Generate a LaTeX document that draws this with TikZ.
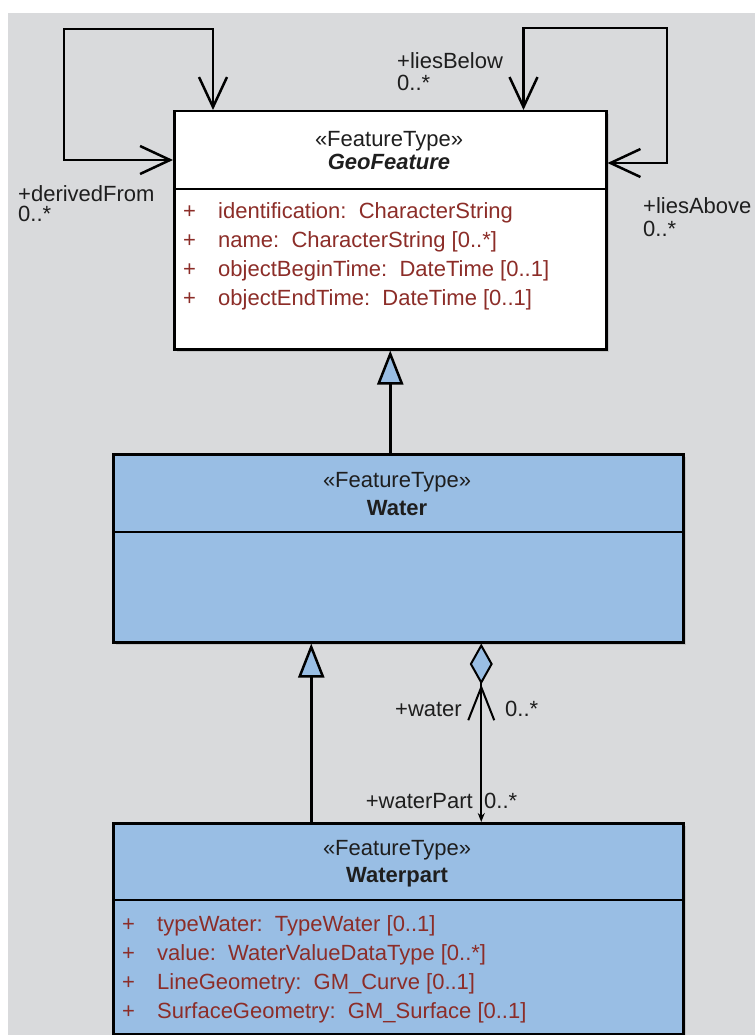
\documentclass[tikz,border=0pt]{standalone}
\usepackage{fontspec}
\setmainfont{Liberation Sans}
\usetikzlibrary{arrows.meta, positioning, shadows}
\definecolor{umlgray}{RGB}{217,218,220}
\definecolor{waterblue}{RGB}{153,190,228}
\definecolor{attrred}{RGB}{140,45,40}
\definecolor{umlink}{RGB}{30,30,30}
\tikzstyle{classbox} = [draw=black, line width=2.5pt, inner sep=0pt, anchor=north west, drop shadow={shadow xshift=3pt, shadow yshift=-3pt, opacity=0.25}]
\tikzstyle{divider} = [line width=2.5pt]
\tikzstyle{umltext} = [inner sep=0pt, text=umlink, font=\fontsize{22}{29}\selectfont]
\tikzstyle{attrs} = [umltext, align=left, anchor=north west, text=attrred]
\tikzstyle{role} = [inner sep=0pt, text=umlink, align=left, anchor=north west]
\tikzstyle{assoc} = [line width=2.5pt, {Straight Barb[length=30pt,width=28pt]}-{Straight Barb[length=30pt,width=28pt]}]
\tikzstyle{gen} = [line width=2.5pt, -{Triangle[length=34pt,width=26pt,fill=waterblue]}]
\tikzstyle{agg} = [line width=2pt, {Diamond[length=41pt,width=23pt,fill=waterblue] Straight Barb[length=33pt,width=26pt]}-{Stealth[length=9pt,width=7pt]}]
\newcommand{\umlattr}[1]{\makebox[35pt][l]{+}#1}

\begin{document}
\begin{tikzpicture}[x=1pt, y=-1pt]
% canvas
\useasboundingbox (0,0) rectangle (755,1035);
\fill[white] (0,0) rectangle (755,1035);
\fill[umlgray] (8,13) rectangle (755,1035);

% GeoFeature
\node[classbox, fill=white, minimum width=432pt, minimum height=238pt] (geo) at (173,110) {};
\draw[divider] ([yshift=-79pt]geo.north west) -- ([yshift=-79pt]geo.north east);
\node[umltext, anchor=base] (geostereo) at (389,147) {«FeatureType»};
\node[umltext, anchor=base] (geoname) at (389,170) {\bfseries\itshape GeoFeature};
\node[attrs] (geoattrs) at (183,202) {
    \umlattr{identification:\ \ CharacterString}\\
    \umlattr{name:\ \ CharacterString [0..*]}\\
    \umlattr{objectBeginTime:\ \ DateTime [0..1]}\\
    \umlattr{objectEndTime:\ \ DateTime [0..1]}
};

% Water
\node[classbox, fill=waterblue, minimum width=570pt, minimum height=188pt] (water) at (112,453) {};
\draw[divider] ([yshift=-79pt]water.north west) -- ([yshift=-79pt]water.north east);
\node[umltext, anchor=base] (waterstereo) at (397,487) {«FeatureType»};
\node[umltext, anchor=base] (watername) at (397,515) {\bfseries Water};

% Waterpart
\node[classbox, fill=waterblue, minimum width=570pt, minimum height=211pt] (wpart) at (112,822) {};
\draw[divider] ([yshift=-78pt]wpart.north west) -- ([yshift=-78pt]wpart.north east);
\node[umltext, anchor=base] (wpartstereo) at (397,855) {«FeatureType»};
\node[umltext, anchor=base] (wpartname) at (397,882) {\bfseries Waterpart};
\node[attrs] (wpartattrs) at (122,915) {
    \umlattr{typeWater:\ \ TypeWater [0..1]}\\
    \umlattr{value:\ \ WaterValueDataType [0..*]}\\
    \umlattr{LineGeometry:\ \ GM\_Curve [0..1]}\\
    \umlattr{SurfaceGeometry:\ \ GM\_Surface [0..1]}
};

% self associations
\coordinate (derivedcorner) at (64,29);
\coordinate (liescorner) at (667,28);
\draw[assoc] ([xshift=40pt]geo.north west) |- (derivedcorner) |- ([yshift=-50pt]geo.north west);
\draw[assoc] ([xshift=-84pt]geo.north east) |- (liescorner) |- ([yshift=-53pt]geo.north east);
\node[role, font=\fontsize{22}{20}\selectfont] (derivedlbl) at (18,185) {+derivedFrom\\0..*};
\node[role, font=\fontsize{22}{22}\selectfont] (belowlbl) at (397,52) {+liesBelow\\0..*};
\node[role, font=\fontsize{22}{23}\selectfont] (abovelbl) at (643,197) {+liesAbove\\0..*};

% generalizations
\draw[gen] (water.north -| geo.south) -- (geo.south);
\draw[gen] ([xshift=-87pt]wpart.north) -- ([xshift=-87pt]water.south);

% aggregation
\draw[agg] ([xshift=83pt]water.south) -- ([xshift=83pt]wpart.north);
\node[umltext, anchor=base east] (waterrole) at (462,716) {+water};
\node[umltext, anchor=base west] (watermult) at (505,716) {0..*};
\node[umltext, anchor=base east] (wpartrole) at (473,808) {+waterPart};
\node[umltext, anchor=base west] (wpartmult) at (484,808) {0..*};
\end{tikzpicture}
\end{document}
